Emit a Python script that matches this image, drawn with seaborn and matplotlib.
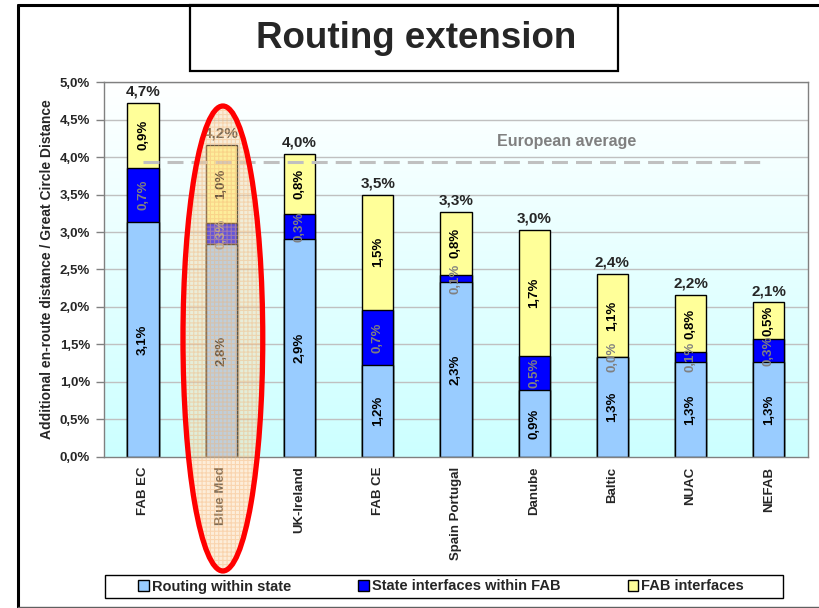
import numpy as np
import matplotlib
matplotlib.use("Agg")
import matplotlib.pyplot as plt
from matplotlib.patches import Ellipse, Patch, Rectangle
from matplotlib.lines import Line2D
import seaborn as sns

# ==== data ====
fabs = ["FAB EC", "Blue Med", "UK-Ireland", "FAB CE", "Spain Portugal",
        "Danube", "Baltic", "NUAC", "NEFAB"]
routing_within_state = [3.13, 2.84, 2.91, 1.22, 2.33, 0.89, 1.33, 1.27, 1.27]
state_interfaces_fab = [0.73, 0.28, 0.33, 0.74, 0.10, 0.46, 0.00, 0.13, 0.30]
fab_interfaces = [0.86, 1.04, 0.80, 1.54, 0.84, 1.68, 1.11, 0.76, 0.49]
european_average = 3.94
highlight = "Blue Med"

series_names = ["Routing within state", "State interfaces within FAB", "FAB interfaces"]
colors = ["#99ccff", "#0000ff", "#ffff99"]

light = np.array(routing_within_state)
mid = light + np.array(state_interfaces_fab)
total = mid + np.array(fab_interfaces)


def pct(v):
    return f"{v:.1f}%".replace(".", ",")


# ==== plot ====
sns.set_theme(style="white")
plt.rcParams["font.family"] = ["Liberation Sans", "DejaVu Sans"]
plt.rcParams["lines.scale_dashes"] = False
plt.rcParams["hatch.linewidth"] = 0.8

fig = plt.figure(figsize=(8.2, 6.08), dpi=100)
ax = fig.add_axes([0.1268, 0.2484, 0.8585, 0.6167])

# background gradient white -> light cyan
grad = np.linspace(0, 1, 256).reshape(-1, 1)
cmap = matplotlib.colors.LinearSegmentedColormap.from_list("bg", ["#ffffff", "#ccffff"])
ax.imshow(grad, cmap=cmap, aspect="auto", extent=[0, 1, 0, 1],
          transform=ax.transAxes, zorder=0)

# stacked bars: draw cumulative heights back to front
for h, c in zip([total, mid, light], [colors[2], colors[1], colors[0]]):
    sns.barplot(x=fabs, y=h, color=c, saturation=1, width=0.4,
                edgecolor="black", linewidth=1, ax=ax, zorder=2)

ax.set_ylim(0, 5)
ax.set_xlim(-0.5, len(fabs) - 0.5)
ax.set_yticks(np.arange(0, 5.01, 0.5))
ax.set_yticklabels([pct(v) for v in np.arange(0, 5.01, 0.5)],
                   fontsize=9.5, fontweight="bold")
for v in np.arange(0.5, 5.01, 0.5):
    ax.axhline(v, color="#c0c0c0", lw=1, zorder=1)

ax.set_xticks(range(len(fabs)))
ax.set_xticklabels(fabs, rotation=90, fontsize=9.5, fontweight="bold", va="top")
ax.set_xticks(np.arange(-0.5, len(fabs)), minor=True)
ax.tick_params(axis="x", which="major", length=0, pad=7)
ax.tick_params(axis="x", which="minor", length=5, width=1, color="#808080", direction="out")
ax.tick_params(axis="y", length=6, width=1, color="#808080", direction="out", pad=4, left=True)
ax.set_xlabel("")
ax.set_ylabel("Additional en-route distance / Great Circle Distance",
              fontsize=10, fontweight="bold", labelpad=4)
for s in ax.spines.values():
    s.set_color("#808080")
    s.set_linewidth(1)

# segment labels
for i in range(len(fabs)):
    segs = [(0, light[i], "black"), (light[i], mid[i], "#808080"), (mid[i], total[i], "black")]
    for lo, hi, tc in segs:
        ax.text(i, (lo + hi) / 2, pct(hi - lo), rotation=90, ha="center", va="center",
                fontsize=9.5, fontweight="bold", color=tc, zorder=5)
    ax.annotate(pct(total[i]), (i, total[i]), xytext=(0, 3), textcoords="offset points",
                ha="center", va="bottom", fontsize=11, fontweight="bold", zorder=5)

# european average
ax.hlines(european_average, 0, len(fabs) - 1.07, colors="#c0c0c0", linewidth=2.2,
          linestyles=(0, (11.5, 5.8)), zorder=6)
ax.text(5.42, european_average + 0.27, "European average", ha="center", va="center",
        fontsize=11.5, fontweight="bold", color="#808080", zorder=6)

# highlight oval
hi = fabs.index(highlight)
fill = Ellipse((hi + 0.02, 1.58), 1.02, 6.2, facecolor="#fbd3a0", edgecolor="#f4b070",
               alpha=0.4, hatch="++++", linewidth=0, clip_on=False, zorder=9)
ax.add_patch(fill)
ring = Ellipse((hi + 0.02, 1.58), 1.02, 6.2, facecolor="none", edgecolor="red",
               linewidth=3.8, clip_on=False, zorder=10)
ax.add_patch(ring)

# legend (frame drawn separately so it can be wider than its content)
fig.patches.append(Rectangle((105 / 820, 1 - 598 / 608), 678 / 820, 23 / 608,
                             transform=fig.transFigure, facecolor="white",
                             edgecolor="black", linewidth=1))
handles = [Patch(facecolor=c, edgecolor="black", linewidth=1) for c in colors]
leg = fig.legend(handles, series_names, loc="center", ncol=3,
                 bbox_to_anchor=(441 / 820, 1 - 586.5 / 608), borderaxespad=0,
                 frameon=False, prop={"weight": "bold", "size": 10.5},
                 handlelength=0.75, handleheight=0.75, handletextpad=0.2,
                 columnspacing=4.6, borderpad=0)

# title box
fig.patches.append(Rectangle((190 / 820, 1 - 71 / 608), 428 / 820, 66 / 608,
                             transform=fig.transFigure, facecolor="white",
                             edgecolor="black", linewidth=1.6))
fig.text(416 / 820, 1 - 39 / 608, "Routing extension", ha="center", va="center",
         fontsize=26.5, fontweight="bold")

# outer frame
fig.lines.append(Line2D([18 / 820, 18 / 820], [1 - 607 / 608, 1 - 5 / 608],
                        transform=fig.transFigure, color="black", lw=2.2))
fig.lines.append(Line2D([18 / 820, 1], [1 - 5 / 608, 1 - 5 / 608],
                        transform=fig.transFigure, color="black", lw=2.2))
fig.lines.append(Line2D([18 / 820, 1], [1 - 607 / 608, 1 - 607 / 608],
                        transform=fig.transFigure, color="#606060", lw=1))

fig.savefig("out.png", dpi=100)
